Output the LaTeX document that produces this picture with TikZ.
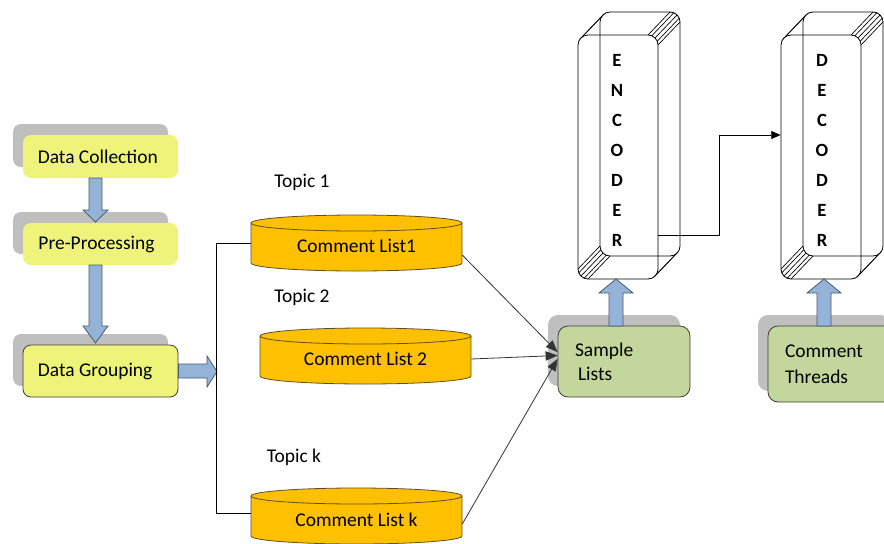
\documentclass[tikz,border=0pt]{standalone}
\usepackage{fontspec}
\setmainfont{Carlito}
\usetikzlibrary{shadows,calc,arrows.meta}
\definecolor{yel}{RGB}{238,244,122}
\definecolor{cylf}{RGB}{255,192,0}
\definecolor{cyld}{RGB}{95,80,35}
\definecolor{grn}{RGB}{195,214,155}
\definecolor{shg}{RGB}{191,191,191}
\definecolor{bluef}{RGB}{149,179,215}
\definecolor{blued}{RGB}{70,90,120}
\definecolor{boxd}{RGB}{60,60,60}
\newcommand\mycyl[5]{%
  \fill[cylf] (#2-105.5,#3-20) -- (#2-105.5,#3+20)
     arc[start angle=180,end angle=0,x radius=105.5,y radius=8]
     -- (#2+105.5,#3-20)
     arc[start angle=0,end angle=-180,x radius=105.5,y radius=8] -- cycle;
  \draw[cyld,line width=0.6pt] (#2-105.5,#3-20) -- (#2-105.5,#3+20)
     arc[start angle=180,end angle=0,x radius=105.5,y radius=8]
     -- (#2+105.5,#3-20);
  \draw[cyld,line width=0.6pt] (#2,#3-20) ellipse[x radius=105.5,y radius=8];
  \node[cylnode] (#1) at (#2,#3+#5) {#4};
}
\newcommand\mybox[3]{% x0, y of front face top-left for 3D box
  \node[draw=black,line width=0.6pt,rounded corners=7.5pt,minimum width=60pt,minimum height=183pt,inner sep=0pt] (#3) at (#1+40,#2+122) {};
  \draw[line width=0.6pt,rounded corners=7.5pt] (#1+22,#2-23) rectangle (#1+102,#2+221);
  \foreach \a in {-90,-67.5,-45,-22.5,0}
    \draw[line width=0.5pt] (#1+70,#2+10) ++(\a:10) -- ++(22,-23);
  \foreach \a in {90,112.5,135,157.5,180}
    \draw[line width=0.5pt] (#1+10,#2+234) ++(\a:10) -- ++(22,-23);
  \foreach \a in {-125,-145}
    \draw[line width=0.5pt] (#1+10,#2+10) ++(\a:10) -- ++(22,-23);
  \foreach \a in {35,55}
    \draw[line width=0.5pt] (#1+70,#2+234) ++(\a:10) -- ++(22,-23);
}
\begin{document}
\begin{tikzpicture}[x=0.75pt,y=-0.75pt,font=\fontsize{14.6}{17}\selectfont,
  ybox/.style={rounded corners=6pt,fill=yel,minimum width=116.25pt,inner sep=0pt,
     general shadow={fill=shg,shadow xshift=-7.5pt,shadow yshift=8.25pt}},
  gbox/.style={rounded corners=7.5pt,fill=grn,draw=boxd,line width=0.6pt,minimum width=99pt,
     inner xsep=12.75pt,inner ysep=0pt,text width=73.5pt,align=left,
     general shadow={fill=shg,shadow xshift=-7.5pt,shadow yshift=8.25pt}},
  cylnode/.style={minimum width=158.25pt,minimum height=24pt,inner sep=0pt},
  barrow/.style={fill=bluef,draw=blued,line width=0.6pt,line join=miter},
  letter/.style={font=\fontsize{14}{16}\selectfont\bfseries,inner sep=0pt},
  lbl/.style={inner sep=0pt},
  conn/.style={draw=black!80,line width=0.6pt,-{Triangle[length=9pt,width=7pt]}}
]
\clip (0,0) rectangle (884,543);
\fill[white] (0,0) rectangle (884,543);

% left column
\node[ybox,minimum height=32.25pt] (dc) at (100.5,156.5) {\hspace*{-4pt}Data Collection};
\node[ybox,minimum height=31.5pt] (pp) at (100.5,244) {\hspace*{-6pt}Pre-Processing};
\node[ybox,draw=boxd,line width=0.6pt,minimum height=39pt] (dg) at (100.5,371) {\hspace*{-8pt}Data Grouping};

\draw[barrow] (89,178) -- (89,210) -- (83,210) -- (95.5,222) -- (108,210) -- (102,210) -- (102,178) -- cycle;
\draw[barrow] (89,265) -- (89,326) -- (83,326) -- (95.5,343) -- (108,326) -- (102,326) -- (102,265) -- cycle;
\draw[barrow] ($(dg.east)+(0,-7)$) -- (207,364) -- (207,356) -- (217,371.5) -- (207,387) -- (207,378) -- ($(dg.east)+(0,7)$) -- cycle;

% topics
\node[lbl] (t1) at (302,182) {Topic 1};
\node[lbl] (t2) at (302,297) {Topic 2};
\node[lbl] (tk) at (294,457) {Topic k};

\mycyl{cyl1}{356.5}{243}{Comment List1}{3}
\mycyl{cyl2}{365.5}{356}{Comment List 2}{3}
\mycyl{cylk}{356.5}{516}{Comment List k}{4}

\coordinate (bb) at (216,513);
\draw[line width=0.6pt] ([yshift=2.25pt]cyl1.west) -| (bb) -- ([yshift=5.25pt]cylk.west);

% sample lists and threads
\node[gbox,minimum height=53.25pt] (sl) at (624,361.5) {Sample\\[1pt]\hspace{2.25pt}Lists};
\node[gbox,minimum height=57pt] (ct) at (834,364) {Comment\\[2.5pt]Threads};

\draw[conn] ([yshift=-6.75pt]cyl1.east) -- ([yshift=7pt]sl.west);
\draw[conn] (cyl2.east) -- ([yshift=4.5pt]sl.west);
\draw[conn] ([yshift=-3pt]cylk.east) -- ([yshift=2pt]sl.west);

% encoder / decoder
\mybox{578}{35}{enc}
\mybox{781}{35}{dec}
\foreach \l [count=\i from 0] in {E,N,C,O,D,E,R}
  \node[letter] (e\i) at (617,60+30*\i) {\l};
\foreach \l [count=\i from 0] in {D,E,C,O,D,E,R}
  \node[letter] (d\i) at (822,60+30*\i) {\l};

\draw[barrow] (609,326) -- (609,293) -- (599,293) -- (616,279) -- (633,293) -- (623,293) -- (623,326) -- cycle;
\draw[barrow] (817,326) -- (817,293) -- (807,293) -- (824,279) -- (841,293) -- (831,293) -- (831,326) -- cycle;

\draw[line width=0.6pt,-{Triangle[length=7pt,width=6pt]}] ([yshift=-58.5pt]enc.east) -| ($([yshift=-58.5pt]enc.east)!0.5!([yshift=16.5pt]dec.west)$) |- ([yshift=16.5pt]dec.west);
\end{tikzpicture}
\end{document}
